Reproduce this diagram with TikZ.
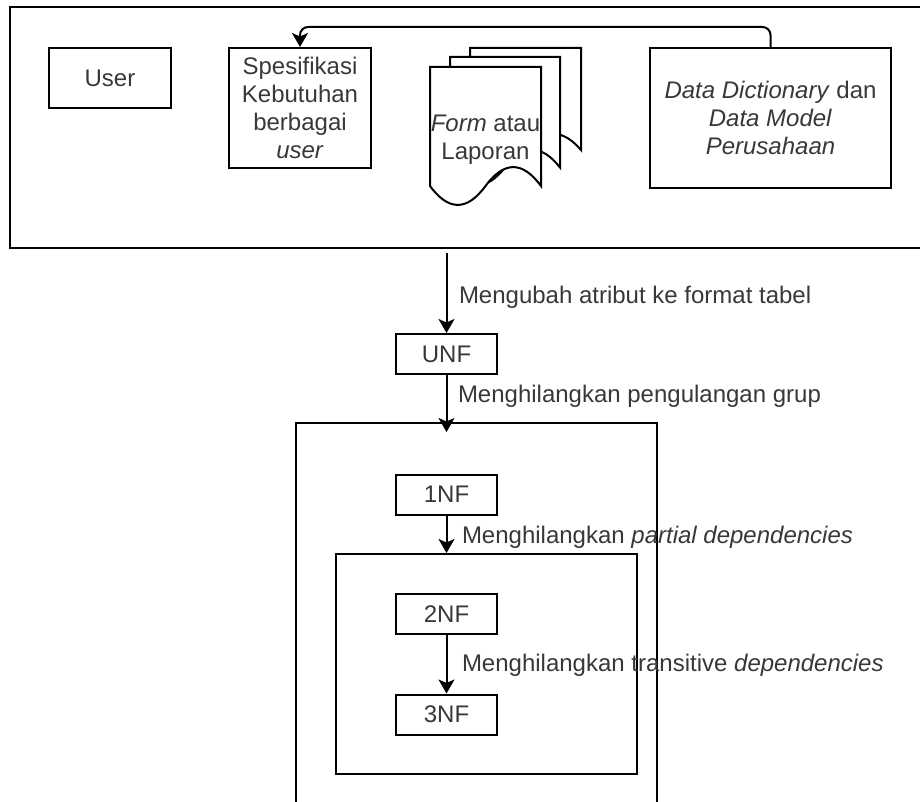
\documentclass[tikz,border=0pt]{standalone}
\usepackage{fontspec}
\setmainfont{Liberation Sans}
\usetikzlibrary{arrows.meta,calc}
\definecolor{inkgray}{rgb}{0.22,0.22,0.22}
% one page of the stacked document symbol: x, y, width, height
\newcommand{\docpage}[4]{%
  \filldraw[fill=white] (#1,#2) -- ++(#3,0) -- ++(0,{0.85*#4})
    .. controls ({#1+0.8333*#3},{#2+0.67*#4}) and ({#1+0.6667*#3},{#2+0.67*#4}) .. ({#1+0.5*#3},{#2+0.85*#4})
    .. controls ({#1+0.3333*#3},{#2+1.03*#4}) and ({#1+0.1667*#3},{#2+1.03*#4}) .. (#1,{#2+0.85*#4}) -- cycle;}

\begin{document}
\begin{tikzpicture}[x=1pt, y=-1pt, line width=2pt,
  font=\fontsize{24}{28}\selectfont,
  box/.style={draw, text=inkgray, inner sep=0pt, align=center},
  nfbox/.style={box, minimum width=101pt, minimum height=40pt},
  frame/.style={draw, inner sep=0pt},
  lbl/.style={text=inkgray, inner sep=0pt, anchor=base west},
  flow/.style={-{Stealth[length=14pt,width=16pt,inset=3.5pt]}}]
  \useasboundingbox (0,0) rectangle (920,802);
  \clip (0,0) rectangle (920,802);

  % Frames
  \node[frame, minimum width=930pt, minimum height=241pt] (topframe) at (475,127.5) {};
  \node[frame, minimum width=361pt, minimum height=410pt] (outer) at (476.5,628) {};
  \node[frame, minimum width=301pt, minimum height=220pt] (inner) at (486.5,664) {};

  % Form atau Laporan pages
  \docpage{470}{48}{111}{120}
  \docpage{450}{57}{110}{130}
  \docpage{430}{67}{111}{140}

  % Nodes
  \node[box, minimum width=122pt, minimum height=60pt] (user) at (110,78) {User};
  \node[box, minimum width=142pt, minimum height=120pt] (spek) at (300,108)
    {Spesifikasi\\Kebutuhan\\berbagai\\\textit{user}};
  \node[text=inkgray, inner sep=0pt, align=center] (form) at (485.5,140) {\textit{Form} atau\\Laporan};
  \node[box, minimum width=241pt, minimum height=140pt] (dd) at (770.5,118)
    {\textit{Data Dictionary} dan\\\textit{Data Model}\\\textit{Perusahaan}};
  \node[nfbox] (unf) at (446.5,354) {UNF};
  \node[nfbox] (nf1) at (446.5,494.5) {1NF};
  \node[nfbox] (nf2) at (446.5,614) {2NF};
  \node[nfbox] (nf3) at (446.5,714.5) {3NF};
  \coordinate (src) at (446.5,253);

  % Labels
  \node[lbl] (l1) at (458,303) {Mengubah atribut ke format tabel};
  \node[lbl] (l2) at (457,402) {Menghilangkan pengulangan grup};
  \node[lbl] (l3) at (461,543) {Menghilangkan \textit{partial dependencies}};
  \node[lbl] (l4) at (461,671) {Menghilangkan transitive \textit{dependencies}};

  % Drawing
  \draw[flow, rounded corners=8pt] (dd.north) -- ++(0,-20) -| (spek.north);
  \draw[flow] (src) -- (unf);
  \draw[flow] (unf) -- ([yshift=-10pt]unf.south |- outer.north);
  \draw[flow] (nf1) -- (nf1.south |- inner.north);
  \draw[flow] (nf2) -- (nf3);
\end{tikzpicture}
\end{document}
